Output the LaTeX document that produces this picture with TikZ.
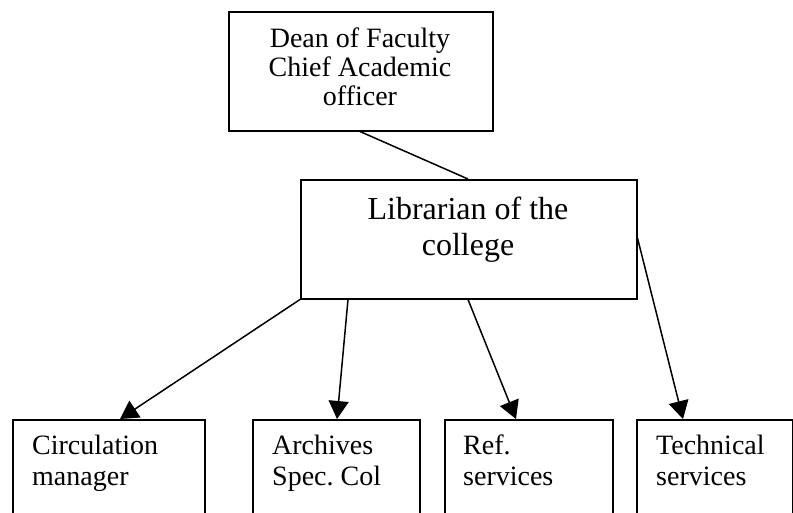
\documentclass[tikz,border=0pt]{standalone}
\usepackage{fontspec}
\setmainfont{Liberation Serif}
\usetikzlibrary{arrows.meta}
\begin{document}
\begin{tikzpicture}[x=1pt,y=-1pt,
  box/.style={draw,line width=1.5pt,inner sep=0pt,anchor=north west},
  lbl/.style={inner sep=0pt,align=left,anchor=north west,font=\frenchspacing\fontsize{28}{31}\selectfont},
  link/.style={line width=1.5pt},
  arr/.style={line width=1.5pt,-{Triangle[length=18pt,width=20pt]}}]
\useasboundingbox (0,0) rectangle (793,512);
% top boxes
\node[box,minimum width=264pt,minimum height=119pt] (dean) at (228,11) {};
\node[inner sep=0pt,align=center,anchor=north,font=\fontsize{28}{29}\selectfont] (deant) at (360,28) {Dean of Faculty\\Chief Academic\\officer};
\node[box,minimum width=336pt,minimum height=119pt] (lib) at (300,179) {};
\node[inner sep=0pt,align=center,anchor=north,font=\fontsize{32}{36}\selectfont] (libt) at (468,197) {Librarian of the\\college};
% bottom boxes
\node[box,minimum width=192pt,minimum height=120pt] (circ) at (12,419) {};
\node[lbl] (circt) at (32,435) {Circulation\\manager};
\node[box,minimum width=167pt,minimum height=120pt] (arch) at (252,419) {};
\node[lbl] (archt) at (272,435) {Archives\\Spec. Col};
\node[box,minimum width=168pt,minimum height=120pt] (ref) at (444,419) {};
\node[lbl] (reft) at (463,435) {Ref.\\services};
\node[box,minimum width=156pt,minimum height=120pt] (tech) at (636,419) {};
\node[lbl] (techt) at (656,435) {Technical\\services};
% connectors
\draw[link] ([xshift=132pt]dean.south west) -- ([xshift=168pt]lib.north west);
\draw[arr] (lib.south west) -- ([xshift=108pt]circ.north west);
\draw[arr] ([xshift=48pt]lib.south west) -- ([xshift=85pt]arch.north west);
\draw[arr] ([xshift=168pt]lib.south west) -- ([xshift=72pt]ref.north west);
\draw[arr] ([yshift=-59pt]lib.north east) -- ([xshift=47pt]tech.north west);
\end{tikzpicture}
\end{document}
